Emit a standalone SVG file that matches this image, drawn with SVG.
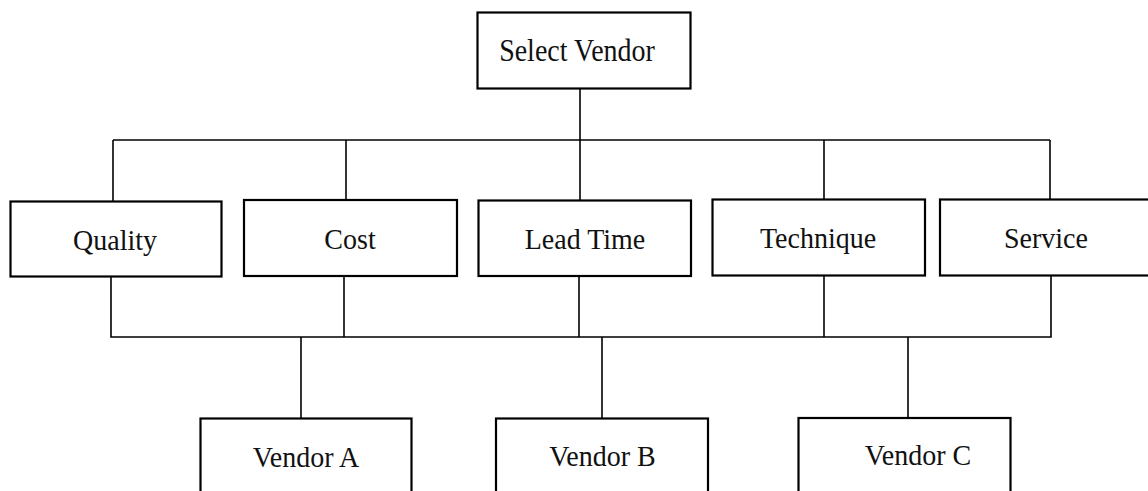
<svg xmlns="http://www.w3.org/2000/svg" width="1148" height="491" viewBox="0 0 1148 491">
  <style>
    .box { fill: #ffffff; stroke: #000000; stroke-width: 2.2; }
    .lbl { font-family: "Liberation Serif", "Times New Roman", serif; font-size: 28px; fill: #111111; text-anchor: middle; }
    .wire { fill: none; stroke: #000000; stroke-width: 1.6; }
  </style>
  <rect width="1148" height="491" fill="#ffffff"/>

  <!-- connectors -->
  <g id="connectors" class="wire">
    <!-- goal to criteria -->
    <path d="M580 88 V201"/>
    <path d="M113 140 H1050"/>
    <path d="M113 140 V201"/>
    <path d="M346 140 V200"/>
    <path d="M824 140 V199"/>
    <path d="M1050 140 V199"/>
    <!-- criteria to alternatives -->
    <path d="M111 276 V337 H1051 V276"/>
    <path d="M344 276 V337"/>
    <path d="M579 276 V337"/>
    <path d="M824 276 V337"/>
    <path d="M301 337 V418"/>
    <path d="M602 337 V418"/>
    <path d="M908 337 V418"/>
  </g>

  <!-- goal -->
  <g id="select-vendor">
    <rect class="box" x="477.5" y="12.5" width="213" height="76"/>
    <text class="lbl" transform="translate(577 61) scale(1 1.12)">Select Vendor</text>
  </g>

  <!-- criteria -->
  <g id="quality">
    <rect class="box" x="10.5" y="201.5" width="211" height="75"/>
    <text class="lbl" transform="translate(115 250) scale(1 1.08)">Quality</text>
  </g>
  <g id="cost">
    <rect class="box" x="244" y="200" width="213" height="76"/>
    <text class="lbl" transform="translate(350 248.5) scale(1 1.08)">Cost</text>
  </g>
  <g id="lead-time">
    <rect class="box" x="478.5" y="200.5" width="212.5" height="75.5"/>
    <text class="lbl" transform="translate(585 249) scale(1 1.08)">Lead Time</text>
  </g>
  <g id="technique">
    <rect class="box" x="712.5" y="199.5" width="212.5" height="76"/>
    <text class="lbl" transform="translate(818 248) scale(1 1.08)">Technique</text>
  </g>
  <g id="service">
    <rect class="box" x="940" y="199.5" width="220" height="76"/>
    <text class="lbl" transform="translate(1046 248) scale(1 1.08)">Service</text>
  </g>

  <!-- alternatives -->
  <g id="vendor-a">
    <rect class="box" x="200.5" y="418.5" width="211" height="90"/>
    <text class="lbl" transform="translate(306 466.5) scale(1 1.04)">Vendor A</text>
  </g>
  <g id="vendor-b">
    <rect class="box" x="496" y="418.5" width="212" height="90"/>
    <text class="lbl" transform="translate(602.5 466) scale(1 1.04)">Vendor B</text>
  </g>
  <g id="vendor-c">
    <rect class="box" x="798.5" y="418" width="212" height="90"/>
    <text class="lbl" transform="translate(918 465) scale(1 1.04)">Vendor C</text>
  </g>
</svg>
